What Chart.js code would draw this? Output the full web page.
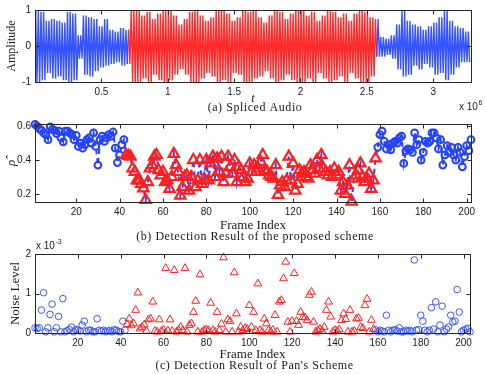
<!DOCTYPE html>
<html>
<head>
<meta charset="utf-8">
<script src="https://cdn.jsdelivr.net/npm/chart.js@4.4.0/dist/chart.umd.min.js"></script>
<style>
  html, body { margin: 0; padding: 0; background: #fff; }
  #wrap { position: relative; width: 485px; height: 374px; overflow: hidden; }
  canvas { position: absolute; left: 0; }
</style>
</head>
<body>
<div id="wrap">
  <canvas id="audio" width="485" height="114" style="top:0"></canvas>
  <canvas id="proposed" width="485" height="130" style="top:114px"></canvas>
  <canvas id="pan" width="485" height="140" style="top:234px"></canvas>
</div>
<script>
// (a) spliced audio: envelope of the waveform, one top/bottom pair per 0.04e6 samples
const envStep = 0.04e6;
const waveTop = [
  0.98, 0.95, 0.70, 0.75, 0.70, 0.65, 0.95, 0.90, 0.30, 0.85, 0.80, 0.75, 0.55, 0.75, 0.45, 0.40, 0.50, 0.45,
  1, 1, 0.85, 0.95, 0.75, 0.90, 1, 1, 0.85, 0.60, 0.75, 0.95, 1, 0.85, 0.70, 0.80, 1, 1, 0.90, 0.70,
  0.80, 1, 0.95, 1, 0.80, 0.65, 0.85, 1, 0.95, 0.75, 0.90, 1, 1, 0.85, 0.95, 0.70, 0.85, 1, 0.95, 0.80,
  0.90, 0.70, 0.90, 1, 0.95, 0.80,
  0.75, 0.25, 0.20, 0.30, 0.60, 1, 0.70, 0.60, 0.55, 0.45, 0.55, 0.65, 0.80, 1, 0.70, 0.55, 0.50, 0.40
];
const waveBottom = [
  -1, -0.95, -0.75, -0.90, -0.85, -0.95, -1, -0.95, -0.35, -0.80, -0.85, -0.70, -0.60, -0.55, -0.50, -0.45, -0.55, -0.50,
  -1, -1, -0.90, -1, -0.80, -0.95, -1, -0.95, -0.80, -0.65, -0.80, -1, -1, -0.90, -0.75, -0.85, -1, -0.95, -1, -0.75,
  -0.80, -1, -1, -0.90, -0.85, -0.70, -0.90, -1, -0.95, -0.80, -0.95, -1, -1, -0.90, -1, -0.75, -0.90, -1, -0.95, -0.85,
  -1, -0.75, -0.90, -1, -1, -0.85,
  -0.30, -0.30, -0.25, -0.35, -0.65, -0.85, -0.80, -0.55, -0.65, -0.50, -0.60, -0.80, -0.75, -0.95, -0.80, -0.60, -0.45, -0.45
];
const spliceStart = 0.7e6;
const spliceEnd = 2.57e6;
const timeTicks = [0.5e6, 1e6, 1.5e6, 2e6, 2.5e6, 3e6];
const ampTicks = [-1, 0, 1];

// (b) proposed scheme, frames 1..202
const rho = [
  0.61, 0.60, 0.585, 0.575, 0.56, 0.55, 0.52, 0.595, 0.58, 0.575,
  0.555, 0.57, 0.53, 0.507, 0.57, 0.57, 0.56, 0.55, 0.52, 0.545,
  0.48, 0.50, 0.47, 0.49, 0.52, 0.53, 0.50, 0.56, 0.48, 0.37,
  0.52, 0.54, 0.51, 0.53, 0.55, 0.54, 0.565, 0.47, 0.385, 0.43,
  0.49, 0.52, 0.43, 0.425, 0.42, 0.35, 0.33, 0.28, 0.28, 0.26,
  0.233, 0.165, 0.27, 0.35, 0.37, 0.42, 0.43, 0.34, 0.31, 0.33,
  0.27, 0.28, 0.23, 0.30, 0.436, 0.37, 0.33, 0.19, 0.24, 0.30,
  0.31, 0.22, 0.30, 0.40, 0.24, 0.28, 0.40, 0.26, 0.29, 0.40,
  0.28, 0.38, 0.42, 0.30, 0.41, 0.33, 0.42, 0.27, 0.32, 0.42,
  0.36, 0.32, 0.40, 0.27, 0.36, 0.34, 0.30, 0.27, 0.29, 0.38,
  0.33, 0.37, 0.33, 0.35, 0.39, 0.43, 0.34, 0.33, 0.31, 0.30,
  0.29, 0.37, 0.195, 0.25, 0.27, 0.24, 0.28, 0.42, 0.28, 0.38,
  0.22, 0.26, 0.34, 0.32, 0.33, 0.30, 0.29, 0.37, 0.34, 0.32,
  0.40, 0.35, 0.43, 0.35, 0.33, 0.31, 0.33, 0.30, 0.35, 0.31,
  0.33, 0.22, 0.27, 0.20, 0.25, 0.37, 0.155, 0.29, 0.31, 0.34,
  0.38, 0.30, 0.27, 0.29, 0.32, 0.23, 0.28, 0.41, 0.475, 0.55,
  0.57, 0.51, 0.465, 0.49, 0.46, 0.50, 0.51, 0.50, 0.53, 0.54,
  0.38, 0.455, 0.465, 0.46, 0.445, 0.56, 0.49, 0.52, 0.40, 0.445,
  0.51, 0.50, 0.51, 0.56, 0.56, 0.53, 0.465, 0.52, 0.37, 0.43,
  0.485, 0.445, 0.475, 0.43, 0.40, 0.475, 0.445, 0.36, 0.42, 0.485,
  0.455, 0.52
];
const splicedFrames = [43, 158];
const frameTicks = [20, 40, 60, 80, 100, 120, 140, 160, 180, 200];
const rhoTicks = [0.2, 0.4, 0.6];

// (c) Pan's scheme, noise level in units of 1e-3, frames 0..203
const noise = [
  0.13, 0.12, 0.13, 0.58, 1.02, 0.03, 0.13, 0.47, 0.73, 0.03,
  0.13, 0.42, 0.03, 0.87, 0.03, 0.06, 0.09, 0.15, 0.03, 0.09,
  0.07, 0.05, 0.20, 0.30, 0.03, 0.07, 0.07, 0.03, 0.03, 0.36,
  0.07, 0.05, 0.07, 0.03, 0.05, 0.07, 0.03, 0.08, 0.07, 0.04,
  0.03, 0.30, 0.07, 0.22, 0.36, 0.19, 0.24, 0.58, 1.02, 0.11,
  0.15, 0.21, 0.05, 0.34, 0.36, 0.79, 0.05, 0.03, 0.34, 0.05,
  0.08, 1.64, 0.06, 0.34, 0.05, 1.59, 0.03, 0.07, 0.15, 0.07,
  1.64, 0.03, 0.20, 0.24, 0.53, 0.81, 0.03, 1.48, 0.03, 0.07,
  0.09, 0.07, 0.76, 0.07, 0.03, 0.53, 0.07, 0.23, 1.91, 0.03,
  0.34, 0.30, 0.03, 1.53, 0.49, 0.03, 0.15, 0.07, 0.12, 0.10,
  0.70, 0.15, 0.53, 0.07, 1.25, 0.07, 0.03, 0.36, 0.24, 0.07,
  0.03, 0.08, 0.45, 0.03, 0.79, 0.83, 1.38, 1.80, 0.28, 0.03,
  0.30, 1.51, 0.30, 0.20, 0.53, 0.40, 0.39, 0.32, 0.96, 1.04,
  0.28, 0.03, 0.07, 0.10, 0.05, 0.15, 0.58, 0.79, 0.41, 0.03,
  0.07, 0.05, 0.09, 0.32, 0.49, 0.35, 0.03, 0.58, 0.03, 0.05,
  0.36, 0.38, 0.15, 0.12, 0.70, 0.86, 0.03, 0.33, 0.10, 0.08,
  0.03, 0.07, 0.05, 0.03, 0.45, 0.07, 0.03, 0.07, 0.08, 0.05,
  0.13, 0.03, 0.03, 0.07, 0.05, 0.07, 0.03, 1.85, 0.07, 0.09,
  0.45, 0.30, 0.07, 0.03, 0.07, 0.64, 0.10, 0.79, 0.03, 0.20,
  0.68, 0.03, 0.10, 0.15, 0.45, 0.28, 0.30, 1.10, 0.53, 0.03,
  0.07, 0.10, 0.12, 0.03
];
const noiseTicks = [0, 1, 2];

const BLUE = '#2442ff';
const RED = '#ff1f1f';
const WAVE_BLUE = '#3553ff';
const WAVE_RED = '#ff2a2a';
const SANS = '"Liberation Sans", Arial, sans-serif';
const SERIF = '"Liberation Serif", "Times New Roman", serif';

const isSpliced = f => f >= splicedFrames[0] && f <= splicedFrames[1];

// box around the plot with inward ticks, caption and exponent note
const axesBox = {
  id: 'axesBox',
  afterDraw(chart, args, opts) {
    const { ctx, chartArea: a, scales: { x, y } } = chart;
    ctx.save();
    ctx.strokeStyle = '#262626';
    ctx.lineWidth = 1;
    const l = Math.round(a.left) + 0.5, t = Math.round(a.top) + 0.5;
    const r = Math.round(a.right) + 0.5, b = Math.round(a.bottom) + 0.5;
    ctx.strokeRect(l, t, r - l, b - t);
    ctx.beginPath();
    x.ticks.forEach(tk => {
      const px = Math.round(x.getPixelForValue(tk.value)) + 0.5;
      ctx.moveTo(px, b); ctx.lineTo(px, b - 4);
      ctx.moveTo(px, t); ctx.lineTo(px, t + 4);
    });
    y.ticks.forEach(tk => {
      const py = Math.round(y.getPixelForValue(tk.value)) + 0.5;
      ctx.moveTo(l, py); ctx.lineTo(l + 4, py);
      ctx.moveTo(r, py); ctx.lineTo(r - 4, py);
    });
    ctx.stroke();

    ctx.fillStyle = '#1a1a1a';
    ctx.textAlign = 'center';
    ctx.textBaseline = 'middle';
    ctx.font = '12px ' + SERIF;
    ctx.letterSpacing = '0.55px';
    ctx.fillText(opts.caption, (a.left + a.right) / 2 + 2, opts.captionY);
    ctx.letterSpacing = '0px';

    if (opts.exponent) {
      ctx.textAlign = 'left';
      ctx.font = '10px ' + SANS;
      ctx.fillText('x 10', opts.expX, opts.expY);
      const w = ctx.measureText('x 10').width;
      ctx.font = '7px ' + SANS;
      ctx.fillText(opts.exponent, opts.expX + w + 0.5, opts.expY - 4);
    }
    ctx.restore();
  }
};

function xAxis(min, max, ticks, fmt, title, titleFont, height, titlePad) {
  return {
    type: 'linear', min, max,
    afterBuildTicks: s => { s.ticks = ticks.map(v => ({ value: v })); },
    afterFit: s => { s.height = height; },
    grid: { display: false, drawTicks: false },
    border: { display: false },
    ticks: { font: { family: SANS, size: 10 }, color: '#1a1a1a', padding: 4, maxRotation: 0, autoSkip: false, callback: fmt },
    title: { display: true, text: title, color: '#1a1a1a', font: titleFont, padding: { top: 0, bottom: titlePad } }
  };
}

function yAxis(min, max, ticks, fmt, title, titleFont, titlePad) {
  return {
    type: 'linear', min, max,
    afterBuildTicks: s => { s.ticks = ticks.map(v => ({ value: v })); },
    afterFit: s => { s.width = 35; },
    grid: { display: false, drawTicks: false },
    border: { display: false },
    ticks: { font: { family: SANS, size: 10 }, color: '#1a1a1a', padding: 4, autoSkip: false, callback: fmt },
    title: { display: true, text: title, color: '#1a1a1a', font: titleFont, padding: { top: titlePad, bottom: 0 } }
  };
}

const common = {
  animation: false,
  responsive: false,
  events: [],
};

// (a) each envelope bin is drawn as a quick top/bottom swing
const wavePoints = [];
waveTop.forEach((top, i) => {
  const bottom = waveBottom[i];
  wavePoints.push({ x: (i + 0.125) * envStep, y: top });
  wavePoints.push({ x: (i + 0.375) * envStep, y: bottom });
  wavePoints.push({ x: (i + 0.625) * envStep, y: top });
  wavePoints.push({ x: (i + 0.875) * envStep, y: bottom });
});

new Chart(document.getElementById('audio'), {
  type: 'line',
  data: {
    datasets: [{
      data: wavePoints,
      borderWidth: 1.4,
      borderColor: WAVE_BLUE,
      pointRadius: 0,
      tension: 0,
      segment: {
        borderColor: c => (c.p0.parsed.x >= spliceStart && c.p0.parsed.x < spliceEnd) ? WAVE_RED : WAVE_BLUE
      }
    }]
  },
  options: {
    ...common,
    layout: { padding: { top: 8, right: 14, bottom: 12, left: 0 } },
    plugins: {
      legend: { display: false },
      tooltip: { enabled: false },
      axesBox: { caption: '(a) Spliced Audio', captionY: 108, exponent: '6', expX: 459, expY: 107 }
    },
    scales: {
      x: xAxis(0, 3.285e6, timeTicks, v => String(v / 1e6), 't',
        { family: SERIF, style: 'italic', size: 12, lineHeight: 1 }, 20, -3),
      y: yAxis(-1, 1, ampTicks, v => String(v), 'Amplitude',
        { family: SERIF, size: 12, lineHeight: 1.2 }, 5)
    }
  },
  plugins: [axesBox]
});

// (b)
const rhoPoints = rho.map((v, i) => ({ x: i + 1, y: v }));
new Chart(document.getElementById('proposed'), {
  type: 'line',
  data: {
    datasets: [
      {
        data: rhoPoints.filter(p => isSpliced(p.x)),
        showLine: false, pointStyle: 'triangle', pointRadius: 6,
        pointBorderWidth: 2.2, pointBorderColor: RED, pointBackgroundColor: 'rgba(255,255,255,0)', clip: false
      },
      {
        data: rhoPoints.filter(p => !isSpliced(p.x)),
        showLine: false, pointStyle: 'circle', pointRadius: 3.4,
        pointBorderWidth: 2, pointBorderColor: BLUE, pointBackgroundColor: 'rgba(255,255,255,0)', clip: false
      },
      {
        data: rhoPoints, borderColor: BLUE, borderWidth: 2, borderDash: [5, 4],
        pointRadius: 0, tension: 0
      }
    ]
  },
  options: {
    ...common,
    layout: { padding: { top: 9, right: 14, bottom: 11, left: 0 } },
    plugins: {
      legend: { display: false },
      tooltip: { enabled: false },
      axesBox: { caption: '(b) Detection Result of the proposed scheme', captionY: 123 }
    },
    scales: {
      x: xAxis(1, 202, frameTicks, v => String(v), 'Frame Index',
        { family: SERIF, size: 13, lineHeight: 1.2 }, 31, 0),
      y: yAxis(0.153, 0.612, rhoTicks, v => v.toFixed(1), 'ρ\u0302',
        { family: SERIF, style: 'italic', size: 13, lineHeight: 1.2 }, 4)
    }
  },
  plugins: [axesBox]
});

// (c)
const noisePoints = noise.map((v, i) => ({ x: i, y: v }));
new Chart(document.getElementById('pan'), {
  type: 'line',
  data: {
    datasets: [
      {
        data: noisePoints.filter(p => isSpliced(p.x)),
        showLine: false, pointStyle: 'triangle', pointRadius: 4.5,
        pointBorderWidth: 1, pointBorderColor: RED, pointBackgroundColor: 'rgba(255,255,255,0)', clip: false
      },
      {
        data: noisePoints.filter(p => !isSpliced(p.x)),
        showLine: false, pointStyle: 'circle', pointRadius: 3.3,
        pointBorderWidth: 1, pointBorderColor: '#3a55ff', pointBackgroundColor: 'rgba(255,255,255,0)', clip: false
      }
    ]
  },
  options: {
    ...common,
    layout: { padding: { top: 20, right: 15, bottom: 10, left: 0 } },
    plugins: {
      legend: { display: false },
      tooltip: { enabled: false },
      axesBox: { caption: "(c) Detection Result of Pan's Scheme", captionY: 132, exponent: '-3', expX: 36, expY: 12 }
    },
    scales: {
      x: xAxis(0, 203, frameTicks, v => String(v), 'Frame Index',
        { family: SERIF, size: 13, lineHeight: 1.2 }, 31, 2),
      y: yAxis(0, 2, noiseTicks, v => String(v), 'Noise Level',
        { family: SERIF, size: 13, lineHeight: 1.2 }, 8)
    }
  },
  plugins: [axesBox]
});
</script>
</body>
</html>
